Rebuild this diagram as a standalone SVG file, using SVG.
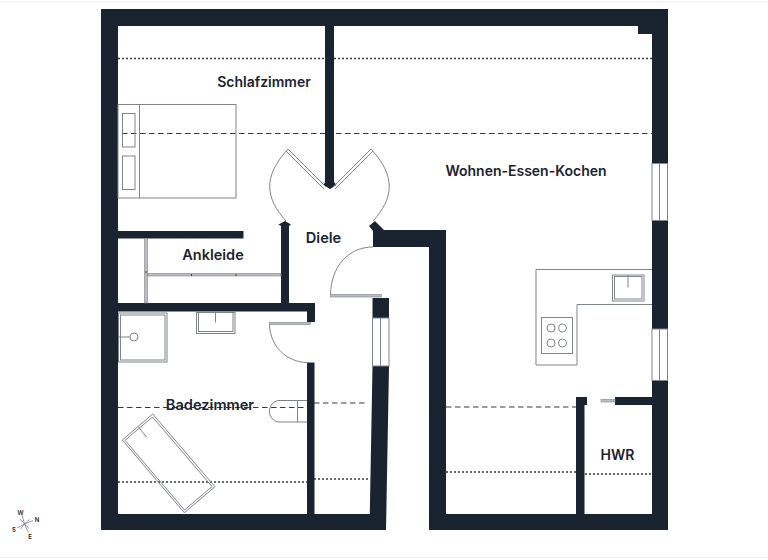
<svg xmlns="http://www.w3.org/2000/svg" width="768" height="560" viewBox="0 0 768 560">
<style>
.w{fill:#1a2330}
.l{fill:none;stroke:#7f848b;stroke-width:1}
.f{fill:#fff;stroke:#7f848b;stroke-width:1}
.d{fill:none;stroke:#333a45;stroke-width:1.200;stroke-dasharray:5.500 3.500}
.o{fill:none;stroke:#333a45;stroke-width:1.400;stroke-dasharray:2 2}
.t{font-family:"Inter","Liberation Sans",sans-serif;font-weight:600;font-size:14px;fill:#1a2330;text-anchor:middle}
.c{font-family:"Inter","Liberation Sans",sans-serif;font-weight:600;font-size:6px;fill:#1a2330;text-anchor:middle}
.g{fill:#b9bcc1;stroke:#7f848b;stroke-width:.6}
</style>
<rect width="768" height="560" fill="#fff"/>
<path d="M0 2H768M0 557.500H768" stroke="#eceded" stroke-width="1"/>
<g id="slopes">
<path class="o" d="M118 58.500H325M334 58.500H652M118 482H307M314 479H369M446 472H576M585 474H652"/>
<path class="d" d="M122 133.500H325M336 133.500H652M118 407.500H307M314 403H368M446 407H576"/>
</g>
<g id="walls">
<rect class="w" x="101" y="9" width="567" height="17"/>
<rect class="w" x="101" y="9" width="17" height="521"/>
<rect class="w" x="638" y="26" width="14" height="8"/>
<rect class="w" x="652" y="9" width="16" height="154.500"/>
<rect class="w" x="652" y="220.500" width="16" height="108.500"/>
<rect class="w" x="652" y="380.500" width="16" height="149.500"/>
<rect class="w" x="101" y="514" width="285" height="16"/>
<rect class="w" x="429" y="514" width="239" height="16"/>
<path class="w" d="M325 26H334V182L336.500 185L330 189L323.500 185L325 182Z"/>
<path class="w" d="M369 226L375 221L384 230H446V530H429V247H373V231Z"/>
<rect class="w" x="118" y="231" width="125.500" height="7.500"/>
<path class="w" d="M281 226L278.500 224.500L285 221L291 224.500L289 226V303H315V322H307V311.500H118V303H281Z"/>
<rect class="w" x="307" y="362.500" width="7.500" height="152"/>
<rect class="w" x="372.500" y="298" width="16.500" height="20"/>
<path class="w" d="M372.500 366H389L386 530H369.500Z"/>
<path class="w" d="M576 397H587V405H584.500V514H576Z"/>
<rect class="w" x="615" y="397" width="37" height="8"/>
</g>
<g id="windows">
<rect class="f" x="652" y="163.500" width="15.500" height="57"/>
<path class="l" d="M659.500 163.500V220.500"/>
<rect class="f" x="652" y="329" width="15.500" height="51.500"/>
<path class="l" d="M659.500 329V380.500"/>
<rect class="f" x="372.500" y="318" width="16.500" height="48"/>
<path class="l" d="M380.500 318V366"/>
</g>
<g id="doors">
<path class="l" d="M288 149C262 177 266 199 286 221M371 149C397 177 393 199 373 221M373 247C348 247 331 267 330.500 294.500M269.500 324C270 347 287 362 307 362.500"/>
<path class="l" d="M288 149L326 187M286 151L324 189"/>
<path class="l" d="M371 149L333 187M373 151L335 189"/>
<rect class="g" x="330.500" y="294.500" width="51" height="2.500"/>
<rect class="g" x="269.500" y="322.500" width="41" height="2"/>
<rect class="g" x="601" y="399.500" width="14" height="2.500"/>
</g>
<g id="bed">
<rect class="l" x="118" y="104.500" width="118" height="93.500"/>
<path class="l" d="M139.500 104.500V198"/>
<rect class="l" x="122.500" y="113.500" width="12.500" height="33.500"/>
<rect class="l" x="122.500" y="156" width="12.500" height="33.500"/>
</g>
<g id="closet">
<rect class="g" x="144.500" y="238.500" width="3" height="64.500"/>
<rect class="g" x="147.500" y="273.500" width="133.500" height="2.500"/>
<path stroke="#3a414c" d="M191.500 274V276M236 274V276M146 271V273"/>
</g>
<g id="shower">
<rect class="l" x="118.500" y="313" width="48.500" height="49"/>
<rect class="l" x="120.500" y="315" width="44.500" height="45"/>
<circle class="l" cx="134" cy="337" r="4"/>
<path class="l" d="M118.500 337H130"/>
</g>
<g id="basin">
<rect class="l" x="196.500" y="312.500" width="38.500" height="21"/>
<rect class="l" x="198.500" y="312.500" width="34.500" height="19"/>
<path class="l" d="M215.500 312.500V322.500"/>
</g>
<g id="toilet">
<path class="l" d="M307 400.500H278A11 11 0 0 0 278 422H307M297.500 400.500V422"/>
</g>
<g id="tub">
<path class="l" d="M152.700 414L215 486.700L184.300 512.700L122.300 440Z"/>
<path class="l" d="M152.500 417L212 486.500L184.500 510L125 440.300Z"/>
<path class="l" d="M138.300 426.700L146.700 437.300"/>
</g>
<g id="kitchen">
<path class="l" d="M652 269.500H536V365H577V304.500H652"/>
<rect class="l" x="612.500" y="275" width="31.500" height="26"/>
<rect class="l" x="614.500" y="276.500" width="27.500" height="22.500"/>
<path class="l" d="M628 275V287.500"/>
<rect class="l" x="541.500" y="317.500" width="31" height="36"/>
<circle class="l" cx="551" cy="328" r="4"/>
<circle class="l" cx="562.500" cy="328" r="4"/>
<circle class="l" cx="551" cy="343" r="4"/>
<circle class="l" cx="562.500" cy="343" r="4"/>
</g>
<g id="labels">
<text class="t" x="264" y="87">Schlafzimmer</text>
<text class="t" x="526" y="176">Wohnen-Essen-Kochen</text>
<text class="t" x="323.500" y="243" style="font-size:14.600px">Diele</text>
<text class="t" x="213" y="260" style="font-size:14.500px">Ankleide</text>
<text class="t" x="210" y="410" style="font-size:14.600px">Badezimmer</text>
<text class="t" x="617.500" y="460">HWR</text>
</g>
<g id="compass">
<path stroke="#6b7078" stroke-width=".7" d="M24.500 524L22 515M24.500 524L33 520.500M24.500 524L17 528M24.500 524L28 532M24.500 524L20 519M24.500 524L29.500 519.500M24.500 524L20.500 529M24.500 524L29 528.500"/>
<text class="c" x="20.500" y="515">W</text>
<text class="c" x="37" y="522">N</text>
<text class="c" x="14" y="531.500">S</text>
<text class="c" x="30" y="538.500">E</text>
</g>
</svg>
